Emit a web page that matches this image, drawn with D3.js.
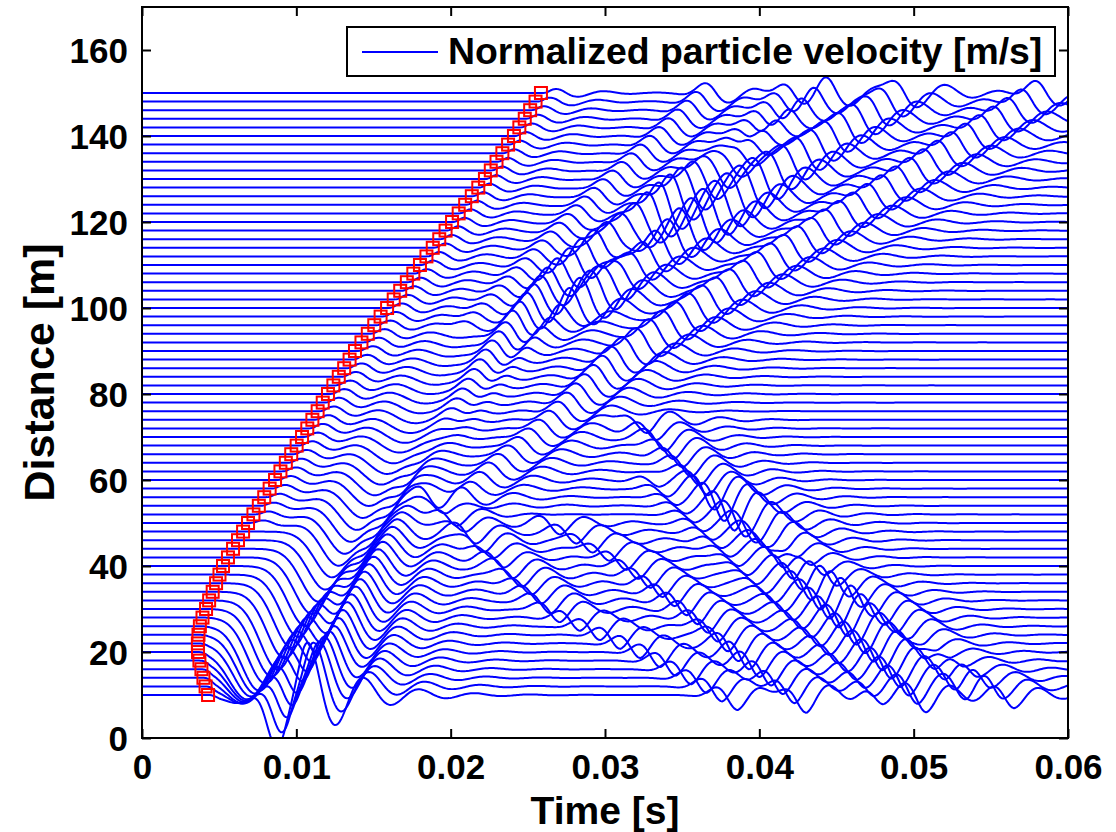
<!DOCTYPE html>
<html>
<head>
<meta charset="utf-8">
<script src="https://cdn.jsdelivr.net/npm/d3@7"></script>
<style>
  body { margin: 0; background: #fff; }
  text { font-family: "Liberation Sans", Arial, Helvetica, sans-serif; font-weight: bold; fill: #000; }
</style>
</head>
<body>
<svg id="chart" width="1116" height="832"></svg>
<script>
// Receiver offsets [m]
const distances = [10,12,14,16,18,20,22,24,26,28,30,32,34,36,38,40,42,44,46,48,50,52,54,56,58,60,
  62,64,66,68,70,72,74,76,78,80,82,84,86,88,90,92,94,96,98,100,102,104,106,108,110,112,114,116,118,120,
  122,124,126,128,130,132,134,136,138,140,142,144,146,148,150];

// Picked first-arrival times [s], one per receiver
const firstArrival = [.00428,.00412,.00398,.00385,.00372,.00363,.00362,.00366,.00375,.00392,.00415,.00435,
  .00458,.00480,.00502,.00525,.00557,.00590,.00622,.00655,.00687,.00722,.00757,.00792,.00827,.00862,
  .00897,.00932,.00967,.01002,.01037,.01071,.01104,.01138,.01171,.01205,.01240,.01275,.01310,.01345,
  .01380,.01422,.01463,.01505,.01546,.01588,.01631,.01673,.01716,.01758,.01801,.01843,.01884,.01926,
  .01967,.02009,.02052,.02094,.02137,.02179,.02222,.02260,.02297,.02335,.02372,.02410,.02445,.02480,
  .02515,.02550,.02585];

// Wave events: offsets [m], arrival picks [s], deflection [m]
// Near-field dip following the first break
const nearDist = [10, 14, 20, 26, 32, 40, 50, 60, 70, 80, 95];
const nearTime = [.0066, .0066, .0068, .0076, .0088, .0106, .0128, .0148, .0168, .0185, .0208];
const nearAmp  = [2.2, 6, 11, 15, 16, 14, 10, 6, 3.5, 2, 0.6];

// Direct arrival ripple at larger offsets
const directDist = [50, 60, 80, 100, 150];
const directTime = [.0085, .0103, .0138, .0175, .0275];
const directAmp  = [0.8, 1.2, 1.5, 1.4, 1.2];

// Up-going wave trains
const upADist = [0, 10, 14, 20, 30, 40, 50, 62, 75, 88, 107, 130, 153];
const upATime = [.0086, .0093, .0100, .0110, .0125, .0139, .0154, .0178, .0205, .0230, .0271, .0367, .0461];
const upAAmp  = [-15, -15, -12, -9, -7, -5, -4, -2.5, 1.5, 3.5, 4.5, 4.5, 4];

const upBDist = [0, 10, 14, 20, 30, 40, 50, 75, 88, 97, 130, 153];
const upBTime = [.0097, .0104, .0112, .0122, .0136, .0150, .0166, .0222, .0248, .0271, .0405, .0509];
const upBAmp  = [-13, -13, -10, -7, -5, -4, -3, 1.5, 3, 4, 4.5, 4];

const upCDist = [50, 74, 89, 120, 152];
const upCTime = [.0193, .0271, .0314, .0450, .0595];
const upCAmp  = [1.5, 3, 4, 4.5, 4];

const upDDist = [95, 125, 151];
const upDTime = [.0213, .0297, .0375];
const upDAmp  = [1.5, 2.5, 3];

const upEDist = [100, 125, 151];
const upETime = [.0280, .0345, .0426];
const upEAmp  = [1.5, 3, 3.5];

// Down-going wave trains (trough times)
const downADist = [57, 30, 20, 8];
const downATime = [.0189, .0271, .0336, .0396];
const downAAmp  = [2, 3, 3.5, 3.5];

const downBDist = [50, 42, 31, 18, 5];
const downBTime = [.0271, .0314, .0357, .0400, .0450];
const downBAmp  = [2.5, 3, 3.5, 4, 5];

const downCDist = [75, 41, 9];
const downCTime = [.0325, .0421, .0511];
const downCAmp  = [3, 3.5, 3.5];

const downDDist = [58, 9];
const downDTime = [.0368, .0569];
const downDAmp  = [2, 3];

const downEDist = [60, 10];
const downETime = [.0335, .0480];
const downEAmp  = [1.5, 2.5];

const downFDist = [52, 11];
const downFTime = [.0400, .0538];
const downFAmp  = [1.5, 2];

// Axis ticks
const timeTicks = [0, 0.01, 0.02, 0.03, 0.04, 0.05, 0.06];
const timeTickLabels = ["0", "0.01", "0.02", "0.03", "0.04", "0.05", "0.06"];
const distTicks = [0, 20, 40, 60, 80, 100, 120, 140, 160];

const legendLabel = "Normalized particle velocity [m/s]";

// ---------------------------------------------------------------------
const svg = d3.select("#chart");
const W = 1116, H = 832;
svg.append("rect").attr("width", W).attr("height", H).attr("fill", "#fff");

const plot = { left: 142, right: 1068, top: 7, bottom: 738 };
const x = d3.scaleLinear().domain([0, 0.06]).range([plot.left, plot.right]);
const y = d3.scaleLinear().domain([0, 170]).range([plot.bottom, plot.top]);

// Wavelets in units of one period u = (t - T) / P, with a short onset and a decaying tail
const envelope = (u, decay) => u < 0 ? Math.exp(-0.5 * (u / 0.3) ** 2) : Math.exp(-u / decay);
const shapes = {
  // steep falling swing at T (rising when the amplitude is negative)
  fall: (u, k) => -Math.sin(2 * Math.PI * u) * envelope(u, k),
  // trough at T
  trough: (u, k) => -Math.cos(2 * Math.PI * u) * (u < 0 ? Math.exp(-0.5 * (u / 0.4) ** 2) : Math.exp(-u / k)),
  // single broad dip centred on T
  dip: (u, k) => -Math.exp(-0.5 * (u / k) ** 2)
};

// Event table built from the pick arrays
const events = [
  { d: nearDist, t: nearTime, a: nearAmp, P: 0.0030, k: 0.38, shape: "dip" },
  { d: directDist, t: directTime, a: directAmp, P: 0.0034, k: 0.7, shape: "fall" },
  { d: upADist, t: upATime, a: upAAmp, P: 0.0036, k: 0.9, shape: "fall" },
  { d: upBDist, t: upBTime, a: upBAmp, P: 0.0036, k: 0.9, shape: "fall" },
  { d: upCDist, t: upCTime, a: upCAmp, P: 0.0038, k: 0.9, shape: "fall" },
  { d: upDDist, t: upDTime, a: upDAmp, P: 0.0036, k: 0.8, shape: "fall" },
  { d: upEDist, t: upETime, a: upEAmp, P: 0.0036, k: 0.8, shape: "fall" },
  { d: downADist, t: downATime, a: downAAmp, P: 0.0032, k: 0.8, shape: "trough" },
  { d: downBDist, t: downBTime, a: downBAmp, P: 0.0032, k: 0.8, shape: "trough" },
  { d: downCDist, t: downCTime, a: downCAmp, P: 0.0032, k: 0.8, shape: "trough" },
  { d: downDDist, t: downDTime, a: downDAmp, P: 0.0032, k: 0.8, shape: "trough" },
  { d: downEDist, t: downETime, a: downEAmp, P: 0.0030, k: 0.8, shape: "trough" },
  { d: downFDist, t: downFTime, a: downFAmp, P: 0.0030, k: 0.8, shape: "trough" }
];

function lookup(xs, ys, v) {
  // piecewise-linear read-off between picks (xs may be descending)
  const pts = xs.map((xv, i) => [xv, ys[i]]).sort((p, q) => p[0] - q[0]);
  if (v < pts[0][0] || v > pts[pts.length - 1][0]) return null;
  for (let i = 1; i < pts.length; i++) {
    if (v <= pts[i][0]) {
      const f = (v - pts[i - 1][0]) / (pts[i][0] - pts[i - 1][0]);
      return pts[i - 1][1] + f * (pts[i][1] - pts[i - 1][1]);
    }
  }
  return pts[pts.length - 1][1];
}

const tSamples = d3.range(0, 0.06 + 1e-9, 0.0001);

const traces = distances.map((dist, i) => {
  const t0 = firstArrival[i];
  const active = events.map(ev => {
    const tt = lookup(ev.d, ev.t, dist);
    const aa = lookup(ev.d, ev.a, dist);
    return tt === null ? null : { t: tt, a: aa, P: ev.P, k: ev.k, f: shapes[ev.shape] };
  }).filter(Boolean);
  return tSamples.map(t => {
    let v = 0;
    if (t > t0) {
      const ramp = Math.min(1, (t - t0) / 0.0008);
      for (const ev of active) v += ev.a * ev.f((t - ev.t) / ev.P, ev.k);
      v *= ramp * ramp * (3 - 2 * ramp);
    }
    return [t, dist + v];
  });
});

// Clip region
svg.append("clipPath").attr("id", "plotClip")
  .append("rect").attr("x", plot.left).attr("y", plot.top)
  .attr("width", plot.right - plot.left).attr("height", plot.bottom - plot.top);

const line = d3.line().x(p => x(p[0])).y(p => y(p[1])).curve(d3.curveLinear);

svg.append("g").attr("clip-path", "url(#plotClip)")
  .selectAll("path").data(traces).join("path")
  .attr("d", line)
  .attr("fill", "none")
  .attr("stroke", "#0000ff")
  .attr("stroke-width", 2)
  .attr("stroke-linejoin", "round");

// First-arrival markers
const sq = 12;
svg.append("g").selectAll("rect").data(distances).join("rect")
  .attr("x", (d, i) => x(firstArrival[i]) - sq / 2)
  .attr("y", d => y(d) - sq / 2)
  .attr("width", sq).attr("height", sq)
  .attr("fill", "none").attr("stroke", "#ff0000").attr("stroke-width", 2);

// Axes box with inward ticks on all sides
const tickLen = 9;
const axesG = svg.append("g");
axesG.append("rect")
  .attr("x", plot.left).attr("y", plot.top)
  .attr("width", plot.right - plot.left).attr("height", plot.bottom - plot.top)
  .attr("fill", "none").attr("stroke", "#000").attr("stroke-width", 2);

const bottomAxis = d3.axisBottom(x).tickValues(timeTicks).tickSize(-tickLen)
  .tickFormat((d, i) => timeTickLabels[i]).tickPadding(16);
const gB = axesG.append("g").attr("transform", `translate(0,${plot.bottom})`).call(bottomAxis);
const topAxis = d3.axisTop(x).tickValues(timeTicks).tickSize(-tickLen).tickFormat("");
const gT = axesG.append("g").attr("transform", `translate(0,${plot.top})`).call(topAxis);
const leftAxis = d3.axisLeft(y).tickValues(distTicks).tickSize(-tickLen).tickPadding(14);
const gL = axesG.append("g").attr("transform", `translate(${plot.left},0)`).call(leftAxis);
const rightAxis = d3.axisRight(y).tickValues(distTicks).tickSize(-tickLen).tickFormat("");
const gR = axesG.append("g").attr("transform", `translate(${plot.right},0)`).call(rightAxis);

[gB, gT, gL, gR].forEach(g => {
  g.select(".domain").remove();
  g.selectAll(".tick line").attr("stroke", "#000").attr("stroke-width", 2);
  g.selectAll("text").attr("font-size", 35).attr("font-family", null).attr("fill", "#000");
});
gB.selectAll(".tick text").attr("dy", "0.71em");
gL.selectAll(".tick text").attr("dy", "0.36em");

// Axis titles
svg.append("text").attr("x", (plot.left + plot.right) / 2).attr("y", 824)
  .attr("text-anchor", "middle").attr("font-size", 39).text("Time [s]");
svg.append("text")
  .attr("transform", `translate(54,${(plot.top + plot.bottom) / 2}) rotate(-90)`)
  .attr("text-anchor", "middle").attr("font-size", 43).text("Distance [m]");

// Legend
const lg = svg.append("g");
lg.append("rect").attr("x", 347).attr("y", 27).attr("width", 708).attr("height", 49)
  .attr("fill", "#fff").attr("stroke", "#000").attr("stroke-width", 2);
lg.append("line").attr("x1", 362).attr("x2", 438).attr("y1", 52).attr("y2", 52)
  .attr("stroke", "#0000ff").attr("stroke-width", 2);
lg.append("text").attr("x", 448).attr("y", 64).attr("font-size", 37.4).text(legendLabel);
</script>
</body>
</html>
